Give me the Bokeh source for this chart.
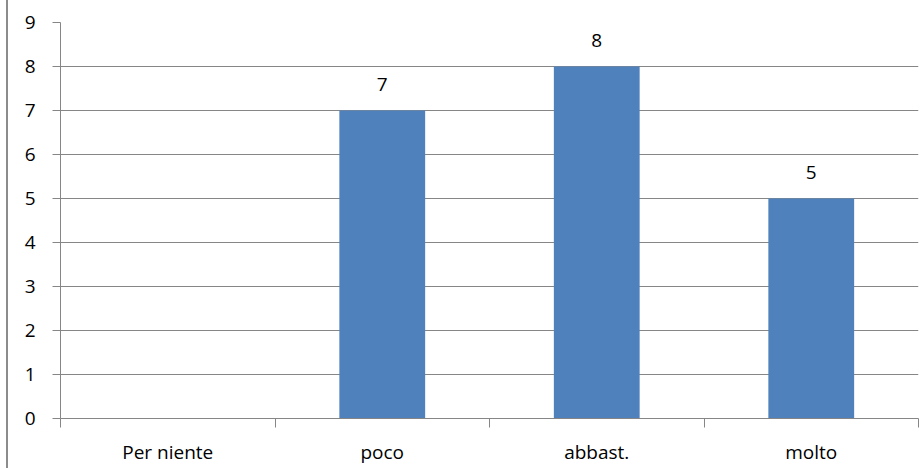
from bokeh.plotting import figure
from bokeh.models import (Range1d, FixedTicker, CustomJSTickFormatter)
from bokeh.core.properties import value
from bokeh.embed import file_html
from bokeh.resources import INLINE

categories = ["Per niente", "poco", "abbast.", "molto"]
counts = [0, 7, 8, 5]
y_ticks = [0, 1, 2, 3, 4, 5, 6, 7, 8, 9]

FONT = "Open Sans"
GRID = "#868686"
BAR = "#4F81BD"
FS = "19px"

xs = [i + 0.5 for i in range(len(categories))]

p = figure(width=922, height=468, output_backend="svg", toolbar_location=None,
           x_range=Range1d(0, len(categories)), y_range=Range1d(0, 9),
           min_border_left=60, min_border_right=4, min_border_top=22, min_border_bottom=50)
p.outline_line_color = None
p.background_fill_color = "white"
p.border_fill_color = None
p.styles = {"background": "linear-gradient(to right, #ffffff 0px, #ffffff 6px, #8C8C8C 6px, "
                          "#8C8C8C 8px, #ffffff 8px, #ffffff 100%)"}

# bars
p.vbar(x=xs, top=counts, width=0.4, fill_color=BAR, line_color=None)

# value labels (only non-zero)
lab_x = [x for x, c in zip(xs, counts) if c > 0]
lab_y = [c for c in counts if c > 0]
lab_t = [str(c) for c in counts if c > 0]
p.text(x=lab_x, y=lab_y, text=lab_t, y_offset=-26, text_align="center",
       text_baseline="alphabetic", text_font=value(FONT), text_font_size=FS,
       text_color="black")

# y axis
ya = p.yaxis[0]
ya.ticker = FixedTicker(ticks=y_ticks)
ya.minor_tick_line_color = None
ya.major_tick_in = 0
ya.major_tick_out = 8
ya.major_tick_line_color = GRID
ya.axis_line_color = GRID
ya.major_label_text_font = FONT
ya.major_label_text_font_size = FS
ya.major_label_text_color = "black"
ya.major_label_standoff = 17

# x axis
xa = p.xaxis[0]
xa.ticker = FixedTicker(ticks=xs, minor_ticks=list(range(len(categories) + 1)))
xa.formatter = CustomJSTickFormatter(args=dict(cats=categories),
                                     code="return cats[Math.floor(tick)];")
xa.major_tick_in = 0
xa.major_tick_out = 0
xa.minor_tick_in = 0
xa.minor_tick_out = 9
xa.minor_tick_line_color = GRID
xa.axis_line_color = GRID
xa.major_label_text_font = FONT
xa.major_label_text_font_size = FS
xa.major_label_text_color = "black"
xa.major_label_standoff = 11

p.xgrid.grid_line_color = None
p.ygrid.grid_line_color = GRID
p.ygrid.grid_line_width = 1

open("out.html", "w").write(file_html(p, INLINE))
